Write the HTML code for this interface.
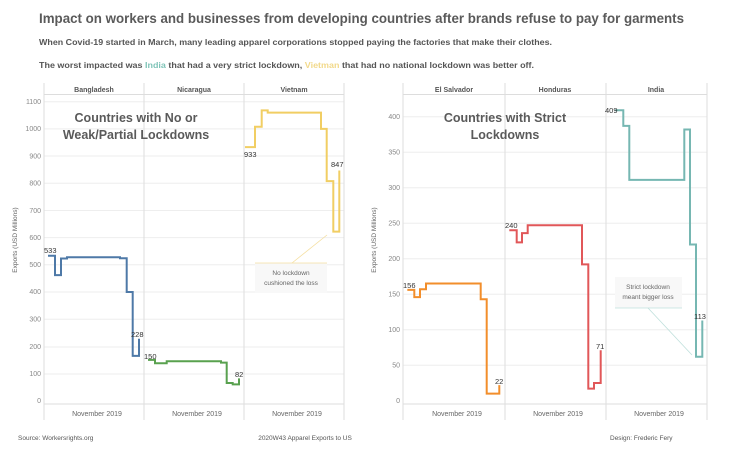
<!DOCTYPE html>
<html><head><meta charset="utf-8"><style>
html,body{margin:0;padding:0;background:#fff;width:735px;height:451px;overflow:hidden}
svg{display:block;font-family:"Liberation Sans",sans-serif}
</style></head><body>
<svg width="735" height="451" viewBox="0 0 735 451">
<text x="39" y="23" font-size="14" font-weight="bold" fill="#5a5a5a" textLength="645" lengthAdjust="spacingAndGlyphs">Impact on workers and businesses from developing countries after brands refuse to pay for garments</text>
<text x="39" y="45" font-size="8.5" font-weight="bold" fill="#555" textLength="513" lengthAdjust="spacingAndGlyphs">When Covid-19 started in March, many leading apparel corporations stopped paying the factories that make their clothes.</text>
<text x="39" y="68" font-size="8.5" font-weight="bold" fill="#555" textLength="495" lengthAdjust="spacingAndGlyphs">The worst impacted was <tspan fill="#7fc4b8">India</tspan> that had a very strict lockdown, <tspan fill="#f2d98a">Vietman</tspan> that had no national lockdown was better off.</text>

<g stroke="#eee" stroke-width="1">
<line x1="44" y1="374" x2="344" y2="374"/><line x1="44" y1="347" x2="344" y2="347"/><line x1="44" y1="319.2" x2="344" y2="319.2"/><line x1="44" y1="292" x2="344" y2="292"/><line x1="44" y1="264.8" x2="344" y2="264.8"/><line x1="44" y1="237.6" x2="344" y2="237.6"/><line x1="44" y1="210.5" x2="344" y2="210.5"/><line x1="44" y1="183.3" x2="344" y2="183.3"/><line x1="44" y1="156" x2="344" y2="156"/><line x1="44" y1="128.9" x2="344" y2="128.9"/><line x1="44" y1="101.7" x2="344" y2="101.7"/>
<line x1="403" y1="365.2" x2="707" y2="365.2"/><line x1="403" y1="329.7" x2="707" y2="329.7"/><line x1="403" y1="294.2" x2="707" y2="294.2"/><line x1="403" y1="258.7" x2="707" y2="258.7"/><line x1="403" y1="223.2" x2="707" y2="223.2"/><line x1="403" y1="187.7" x2="707" y2="187.7"/><line x1="403" y1="152.2" x2="707" y2="152.2"/><line x1="403" y1="116.7" x2="707" y2="116.7"/>
</g>
<g stroke="#ddd" stroke-width="1" fill="none">
<line x1="44" y1="83" x2="44" y2="420"/><line x1="144" y1="83" x2="144" y2="420"/><line x1="244" y1="83" x2="244" y2="420"/><line x1="344" y1="83" x2="344" y2="420"/>
<line x1="44" y1="94.5" x2="344" y2="94.5"/><line x1="44" y1="404" x2="344" y2="404"/>
<line x1="403" y1="83" x2="403" y2="420"/><line x1="505" y1="83" x2="505" y2="420"/><line x1="606" y1="83" x2="606" y2="420"/><line x1="707" y1="83" x2="707" y2="420"/>
<line x1="403" y1="94.5" x2="707" y2="94.5"/><line x1="403" y1="404" x2="707" y2="404"/>
</g>
<g font-size="7" font-weight="bold" fill="#555" text-anchor="middle">
<text x="94" y="92">Bangladesh</text><text x="194" y="92">Nicaragua</text><text x="294" y="92">Vietnam</text>
<text x="454" y="92">El Salvador</text><text x="555" y="92">Honduras</text><text x="656" y="92">India</text>
</g>
<g font-size="7" fill="#666" text-anchor="middle">
<text x="97" y="416">November 2019</text><text x="197" y="416">November 2019</text><text x="297" y="416">November 2019</text>
<text x="457" y="416">November 2019</text><text x="558" y="416">November 2019</text><text x="659" y="416">November 2019</text>
</g>
<g font-size="7" fill="#888" text-anchor="end">
<text x="41" y="403">0</text><text x="41" y="376">100</text><text x="41" y="349">200</text><text x="41" y="321.5">300</text><text x="41" y="294">400</text><text x="41" y="267">500</text><text x="41" y="240">600</text><text x="41" y="213">700</text><text x="41" y="185.5">800</text><text x="41" y="158.5">900</text><text x="41" y="131">1000</text><text x="41" y="104">1100</text>
<text x="400" y="403">0</text><text x="400" y="367.5">50</text><text x="400" y="332">100</text><text x="400" y="296.5">150</text><text x="400" y="261">200</text><text x="400" y="225.5">250</text><text x="400" y="190">300</text><text x="400" y="154.5">350</text><text x="400" y="119">400</text>
</g>
<text transform="translate(17,240) rotate(-90)" font-size="6.5" fill="#666" text-anchor="middle">Exports (USD Millions)</text>
<text transform="translate(376,240) rotate(-90)" font-size="6.5" fill="#666" text-anchor="middle">Exports (USD Millions)</text>

<g font-size="12.5" font-weight="bold" fill="#5a5a5a" text-anchor="middle">
<text x="136" y="122">Countries with No or</text><text x="136" y="139">Weak/Partial Lockdowns</text>
<text x="505" y="122">Countries with Strict</text><text x="505" y="139">Lockdowns</text>
</g>

<g fill="none" stroke-width="2">
<polyline stroke="#4e79a7" points="48,255.8 55,255.8 55,275.1 61,275.1 61,258.5 67,258.5 67,257.2 120,257.2 120,258.3 126.7,258.3 126.7,292 132.7,292 132.7,355.9 139,355.9 139,338.7"/>
<polyline stroke="#59a14f" points="148,359.9 155,359.9 155,363.2 166.7,363.2 166.7,361.3 221,361.3 221,362.6 226.7,362.6 226.7,383 232.7,383 232.7,384.4 239,384.4 239,378.4"/>
<polyline stroke="#f1ce63" points="245,147.1 255,147.1 255,126.7 261.7,126.7 261.7,110.4 267.7,110.4 267.7,112.6 321,112.6 321,128.9 326.7,128.9 326.7,181.1 333.3,181.1 333.3,231.6 339.3,231.6 339.3,170.5"/>
<polyline stroke="#f28e2b" points="407.3,289.9 414.3,289.9 414.3,297.1 420,297.1 420,289.2 426,289.2 426,283.5 480.7,283.5 480.7,299.2 486.7,299.2 486.7,393.6 499.3,393.6 499.3,385.1"/>
<polyline stroke="#e15759" points="509.3,230.3 516.7,230.3 516.7,242.4 522,242.4 522,233.1 527.7,233.1 527.7,225.3 582,225.3 582,264.4 588.3,264.4 588.3,388.6 594,388.6 594,383 600.7,383 600.7,350.3"/>
<polyline stroke="#76b7b2" points="615,110.3 623.3,110.3 623.3,125.9 629.3,125.9 629.3,179.9 684.3,179.9 684.3,129.5 690,129.5 690,244.5 696,244.5 696,356.7 702.3,356.7 702.3,320.5"/>
</g>
<g font-size="7.5" fill="#333">
<text x="44" y="253">533</text><text x="131" y="337">228</text><text x="144" y="359">150</text><text x="235" y="377">82</text>
<text x="244" y="157">933</text><text x="331" y="167">847</text>
<text x="403" y="288">156</text><text x="495" y="384">22</text><text x="505" y="228">240</text><text x="596" y="349">71</text>
<text x="605" y="113">409</text><text x="694" y="319">113</text>
</g>
<rect x="255" y="263" width="72" height="30" fill="#f8f8f8"/>
<line x1="255" y1="263" x2="327" y2="263" stroke="#f5dfa0" stroke-width="0.8"/>
<line x1="292" y1="263" x2="327" y2="235" stroke="#f5dfa0" stroke-width="0.8"/>
<text x="291" y="275" font-size="6.5" fill="#666" text-anchor="middle">No lockdown</text>
<text x="291" y="285" font-size="6.5" fill="#666" text-anchor="middle">cushioned the loss</text>
<rect x="615" y="277" width="67" height="31" fill="#f8f8f8"/>
<line x1="615" y1="308" x2="682" y2="308" stroke="#bfe0dc" stroke-width="0.8"/>
<line x1="648" y1="308" x2="692" y2="355" stroke="#bfe0dc" stroke-width="0.8"/>
<text x="648" y="289" font-size="6.5" fill="#666" text-anchor="middle">Strict lockdown</text>
<text x="648" y="299" font-size="6.5" fill="#666" text-anchor="middle">meant bigger loss</text>

<g font-size="6.5" fill="#555">
<text x="18" y="440">Source: Workersrights.org</text>
<text x="305" y="440" text-anchor="middle">2020W43 Apparel Exports to US</text>
<text x="610" y="440">Design: Frederic Fery</text>
</g>
</svg>
</body></html>
